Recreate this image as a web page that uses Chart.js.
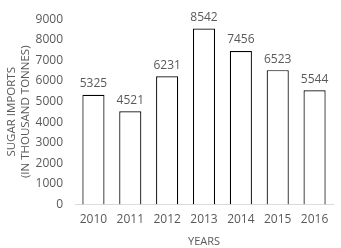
<!DOCTYPE html>
<html><head><meta charset="utf-8">
<script src="https://cdn.jsdelivr.net/npm/chart.js@4/dist/chart.umd.min.js"></script>
<style>html,body{margin:0;padding:0;background:#fff}#wrap{width:341px;height:248px}</style>
</head><body><div id="wrap"><canvas id="c"></canvas></div>
<script>
const categories = ["2010","2011","2012","2013","2014","2015","2016"];
const imports = [5325,4521,6231,8542,7456,6523,5544];
const yTicks = [0,1000,2000,3000,4000,5000,6000,7000,8000,9000];
const FONT = "'Open Sans', sans-serif";
const GRAY = '#595959';

const labelPlugin = {
  id:'labels',
  afterDatasetsDraw(chart){
    const ctx = chart.ctx;
    const meta = chart.getDatasetMeta(0);
    ctx.save();
    ctx.font = "12px " + FONT;
    ctx.fillStyle = GRAY;
    ctx.textAlign = 'center';
    ctx.textBaseline = 'bottom';
    meta.data.forEach((bar,i)=>{
      ctx.fillText(String(imports[i]), bar.x, bar.y - 5);
    });
    ctx.restore();
  }
};

new Chart(document.getElementById('c'), {
  type:'bar',
  data:{labels:categories, datasets:[{data:imports, backgroundColor:'#ffffff', borderColor:'#000000', borderWidth:1.2, categoryPercentage:1, barPercentage:0.6}]},
  options:{
    responsive:true, maintainAspectRatio:false, animation:false,
    layout:{padding:{top:6,right:8,left:5,bottom:0}},
    plugins:{legend:{display:false}, tooltip:{enabled:false}},
    scales:{
      x:{
        grid:{display:false, drawTicks:false},
        border:{display:true, color:'#d9d9d9', width:1},
        ticks:{font:{family:FONT,size:12}, color:GRAY, padding:8},
        title:{display:true, text:'YEARS', font:{family:FONT,size:11}, color:GRAY, padding:{top:0,bottom:0}}
      },
      y:{
        min:0, max:9000,
        afterBuildTicks(axis){ axis.ticks = yTicks.map(v=>({value:v})); },
        grid:{display:false, drawTicks:false},
        border:{display:false},
        ticks:{font:{family:FONT,size:12}, color:GRAY, padding:12, callback:(v)=>String(v)},
        title:{display:true, text:['SUGAR IMPORTS','(IN THOUSAND TONNES)'], font:{family:FONT,size:11.5, lineHeight:1.2}, color:GRAY, padding:{top:0,bottom:6}},
        afterFit(axis){ axis.width = 70; }
      }
    }
  },
  plugins:[labelPlugin]
});
</script></body></html>
